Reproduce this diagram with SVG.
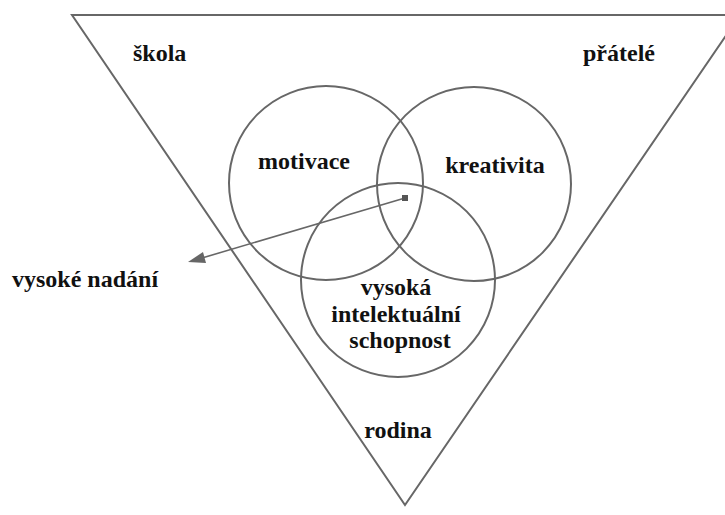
<svg xmlns="http://www.w3.org/2000/svg" width="725" height="515" viewBox="0 0 725 515">
<style>
.ln{fill:none;stroke:#676767;stroke-width:2}
.t{font-family:'Liberation Serif','Times New Roman',serif;font-weight:700;font-size:24px;fill:#111}
</style>
<rect width="725" height="515" fill="#fff"/>
<g id="triangle"><polygon class="ln" points="72,15 740,15 405,505"/></g>
<g id="skola"><text class="t" x="133" y="61">škola</text></g>
<g id="pratele"><text class="t" x="583" y="61">přátelé</text></g>
<g id="rodina"><text class="t" x="398" y="438" text-anchor="middle">rodina</text></g>
<g id="motivace"><circle class="ln" cx="326" cy="183" r="97"/><text class="t" x="304" y="169" text-anchor="middle">motivace</text></g>
<g id="kreativita"><circle class="ln" cx="474" cy="184" r="97"/><text class="t" x="495" y="173" text-anchor="middle">kreativita</text></g>
<g id="schopnost"><circle class="ln" cx="398" cy="280" r="97"/>
<text class="t" x="396" y="295" text-anchor="middle">vysoká</text>
<text class="t" x="396" y="322" text-anchor="middle">intelektuální</text>
<text class="t" x="400" y="348" text-anchor="middle">schopnost</text></g>
<g id="nadani"><text class="t" x="12" y="287">vysoké nadání</text></g>
<g id="connectors">
<line x1="405" y1="198" x2="202" y2="258" stroke="#676767" stroke-width="1.6"/>
<rect x="402" y="195" width="6" height="6" fill="#555"/>
<polygon points="188,262 203,252 206,263" fill="#666"/>
</g>
</svg>
